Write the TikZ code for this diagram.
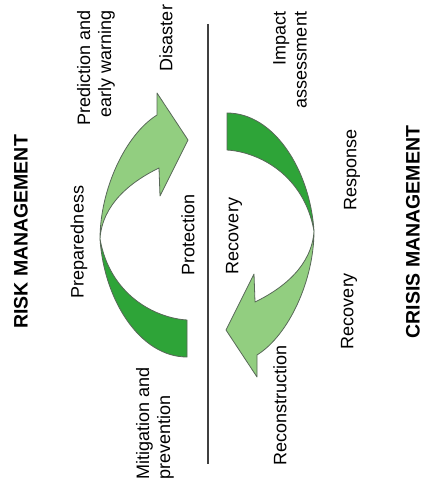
\documentclass[tikz,border=0pt]{standalone}
\usepackage{fontspec}
\setmainfont{Liberation Sans}
\definecolor{leafgreen}{RGB}{146,206,128}
\definecolor{deepgreen}{RGB}{46,164,56}
\definecolor{rimgray}{RGB}{88,104,88}
\tikzset{ lbl/.style = { rotate       = 90
                       , inner sep    = 0pt
                       , font         = \fontsize{18}{21}\selectfont
                       },
          ttl/.style = { rotate       = 90
                       , inner sep    = 0pt
                       , font         = \fontsize{19.5}{23}\selectfont\bfseries
                       },
           lt/.style = { fill         = leafgreen
                       , draw         = rimgray
                       , line width   = 0.8pt
                       , line join    = round
                       },
           dk/.style = { fill         = deepgreen
                       , draw         = rimgray
                       , line width   = 0.8pt
                       , line join    = round
                       }
        }

\begin{document}
\begin{tikzpicture}[x=1pt, y=-1pt]
            \useasboundingbox (0,0) rectangle (426,489);
            % risk side
            \filldraw[lt] (100,239) .. controls (100,190) and (125,135) .. (157,115)
                -- (157,93) -- (188,140) -- (160,196) -- (159,168)
                .. controls (130,182) and (102,205) .. cycle;
            \filldraw[dk] (100,239) .. controls (104,300) and (140,357) .. (187,357)
                -- (187,320) .. controls (155,318) and (110,295) .. cycle;
            % crisis side
            \begin{scope}[rotate around={180:(207,235)}]
            \filldraw[lt] (100,239) .. controls (100,190) and (125,135) .. (157,115)
                -- (157,93) -- (188,140) -- (160,196) -- (159,168)
                .. controls (130,182) and (102,205) .. cycle;
            \filldraw[dk] (100,239) .. controls (104,300) and (140,357) .. (187,357)
                -- (187,320) .. controls (155,318) and (110,295) .. cycle;
            \end{scope}
            \coordinate (ltop) at (208,24);
            \coordinate (lbot) at (208,464);
            \path[draw=black!75, line width=1.6pt] (ltop) -- (lbot);

            \node[ttl] (risk)   at (21,232)  {RISK MANAGEMENT};
            \node[ttl] (crisis) at (413,232) {CRISIS MANAGEMENT};
            \node[lbl, align=right] (pred) at (96,68) {Prediction and\\early warning};
            \node[lbl] (dis)    at (166,38)  {Disaster};
            \node[lbl] (prep)   at (79,242)  {Preparedness};
            \node[lbl] (prot)   at (188,235) {Protection};
            \node[lbl, align=left] (mit) at (155,423) {Mitigation and\\prevention};
            \node[lbl] (rec1)   at (234,236) {Recovery};
            \node[lbl, align=right] (imp) at (290,60) {Impact\\assessment};
            \node[lbl] (resp)   at (352,170) {Response};
            \node[lbl] (rec2)   at (349,311) {Recovery};
            \node[lbl] (recon)  at (280,405) {Reconstruction};
\end{tikzpicture}
\end{document}
